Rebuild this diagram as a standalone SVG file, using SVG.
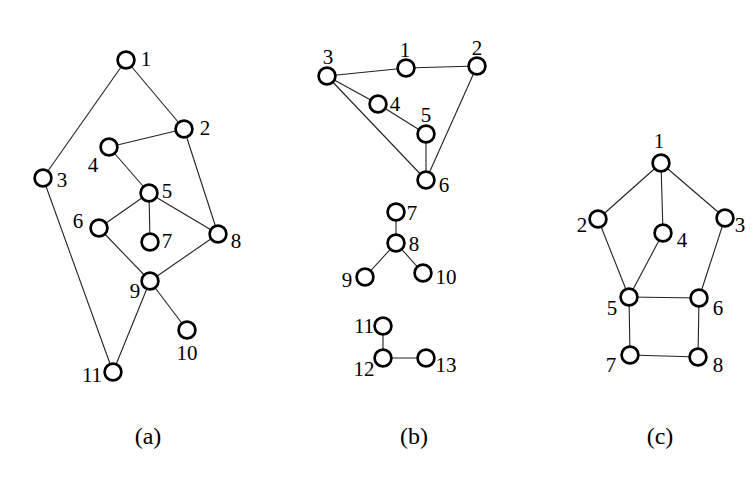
<svg xmlns="http://www.w3.org/2000/svg" width="755" height="485" viewBox="0 0 755 485">
<style>
.e{stroke:#222;stroke-width:1.1;fill:none}
.n circle{fill:#fff;stroke:#000;stroke-width:2.7}
text{font-family:"Liberation Serif","Times New Roman",serif;font-size:21px;fill:#000;text-anchor:middle}
.cap{font-size:24px}
</style>
<rect width="755" height="485" fill="#fff"/>
<g id="connectors">
<g id="edges-a">
<line class="e" x1="126" y1="60" x2="184" y2="129"/>
<line class="e" x1="126" y1="60" x2="43" y2="178"/>
<line class="e" x1="184" y1="129" x2="109" y2="147"/>
<line class="e" x1="184" y1="129" x2="218" y2="234"/>
<line class="e" x1="109" y1="147" x2="149" y2="193"/>
<line class="e" x1="149" y1="193" x2="99" y2="228"/>
<line class="e" x1="149" y1="193" x2="150" y2="242"/>
<line class="e" x1="149" y1="193" x2="218" y2="234"/>
<line class="e" x1="99" y1="228" x2="150" y2="281"/>
<line class="e" x1="218" y1="234" x2="150" y2="281"/>
<line class="e" x1="150" y1="281" x2="187" y2="330"/>
<line class="e" x1="150" y1="281" x2="113" y2="372"/>
<line class="e" x1="43" y1="178" x2="113" y2="372"/>
</g>
<g id="edges-b">
<line class="e" x1="327" y1="76" x2="406" y2="68"/>
<line class="e" x1="406" y1="68" x2="477" y2="66"/>
<line class="e" x1="327" y1="76" x2="378" y2="104"/>
<line class="e" x1="378" y1="104" x2="426" y2="134"/>
<line class="e" x1="327" y1="76" x2="426" y2="180"/>
<line class="e" x1="426" y1="134" x2="426" y2="180"/>
<line class="e" x1="477" y1="66" x2="426" y2="180"/>
<line class="e" x1="396" y1="212" x2="396" y2="243"/>
<line class="e" x1="396" y1="243" x2="365" y2="277"/>
<line class="e" x1="396" y1="243" x2="423" y2="273"/>
<line class="e" x1="383" y1="326" x2="383" y2="358"/>
<line class="e" x1="383" y1="358" x2="426" y2="358"/>
</g>
<g id="edges-c">
<line class="e" x1="661" y1="163" x2="598" y2="219"/>
<line class="e" x1="661" y1="163" x2="663" y2="233"/>
<line class="e" x1="661" y1="163" x2="725" y2="218"/>
<line class="e" x1="598" y1="219" x2="629" y2="297"/>
<line class="e" x1="663" y1="233" x2="629" y2="297"/>
<line class="e" x1="725" y1="218" x2="699" y2="298"/>
<line class="e" x1="629" y1="297" x2="699" y2="298"/>
<line class="e" x1="629" y1="297" x2="630" y2="355"/>
<line class="e" x1="699" y1="298" x2="698" y2="357"/>
<line class="e" x1="630" y1="355" x2="698" y2="357"/>
</g>
</g>
<g class="n" id="a1"><circle cx="126" cy="60" r="8.4"/><text x="146" y="66">1</text></g>
<g class="n" id="a2"><circle cx="184" cy="129" r="8.4"/><text x="205" y="135">2</text></g>
<g class="n" id="a3"><circle cx="43" cy="178" r="8.4"/><text x="62" y="187">3</text></g>
<g class="n" id="a4"><circle cx="109" cy="147" r="8.4"/><text x="93" y="172">4</text></g>
<g class="n" id="a5"><circle cx="149" cy="193" r="8.4"/><text x="167" y="198">5</text></g>
<g class="n" id="a6"><circle cx="99" cy="228" r="8.4"/><text x="78" y="228">6</text></g>
<g class="n" id="a7"><circle cx="150" cy="242" r="8.4"/><text x="167" y="248">7</text></g>
<g class="n" id="a8"><circle cx="218" cy="234" r="8.4"/><text x="236" y="248">8</text></g>
<g class="n" id="a9"><circle cx="150" cy="281" r="8.4"/><text x="135" y="298">9</text></g>
<g class="n" id="a10"><circle cx="187" cy="330" r="8.4"/><text x="187" y="360">10</text></g>
<g class="n" id="a11"><circle cx="113" cy="372" r="8.4"/><text x="92" y="382">11</text></g>
<g class="n" id="b1"><circle cx="406" cy="68" r="8.4"/><text x="405" y="57">1</text></g>
<g class="n" id="b2"><circle cx="477" cy="66" r="8.4"/><text x="477" y="55">2</text></g>
<g class="n" id="b3"><circle cx="327" cy="76" r="8.4"/><text x="328" y="64">3</text></g>
<g class="n" id="b4"><circle cx="378" cy="104" r="8.4"/><text x="395" y="111">4</text></g>
<g class="n" id="b5"><circle cx="426" cy="134" r="8.4"/><text x="426" y="122">5</text></g>
<g class="n" id="b6"><circle cx="426" cy="180" r="8.4"/><text x="444" y="192">6</text></g>
<g class="n" id="b7"><circle cx="396" cy="212" r="8.4"/><text x="412" y="220">7</text></g>
<g class="n" id="b8"><circle cx="396" cy="243" r="8.4"/><text x="414" y="251">8</text></g>
<g class="n" id="b9"><circle cx="365" cy="277" r="8.4"/><text x="347" y="287">9</text></g>
<g class="n" id="b10"><circle cx="423" cy="273" r="8.4"/><text x="446" y="284">10</text></g>
<g class="n" id="b11"><circle cx="383" cy="326" r="8.4"/><text x="364" y="333">11</text></g>
<g class="n" id="b12"><circle cx="383" cy="358" r="8.4"/><text x="364" y="376">12</text></g>
<g class="n" id="b13"><circle cx="426" cy="358" r="8.4"/><text x="446" y="372">13</text></g>
<g class="n" id="c1"><circle cx="661" cy="163" r="8.4"/><text x="659" y="148">1</text></g>
<g class="n" id="c2"><circle cx="598" cy="219" r="8.4"/><text x="582" y="232">2</text></g>
<g class="n" id="c3"><circle cx="725" cy="218" r="8.4"/><text x="740" y="232">3</text></g>
<g class="n" id="c4"><circle cx="663" cy="233" r="8.4"/><text x="682" y="247">4</text></g>
<g class="n" id="c5"><circle cx="629" cy="297" r="8.4"/><text x="612" y="315">5</text></g>
<g class="n" id="c6"><circle cx="699" cy="298" r="8.4"/><text x="718" y="315">6</text></g>
<g class="n" id="c7"><circle cx="630" cy="355" r="8.4"/><text x="611" y="372">7</text></g>
<g class="n" id="c8"><circle cx="698" cy="357" r="8.4"/><text x="718" y="372">8</text></g>
<g id="captions">
<text class="cap" x="148" y="444">(a)</text>
<text class="cap" x="414" y="444">(b)</text>
<text class="cap" x="660" y="444">(c)</text>
</g>
</svg>
